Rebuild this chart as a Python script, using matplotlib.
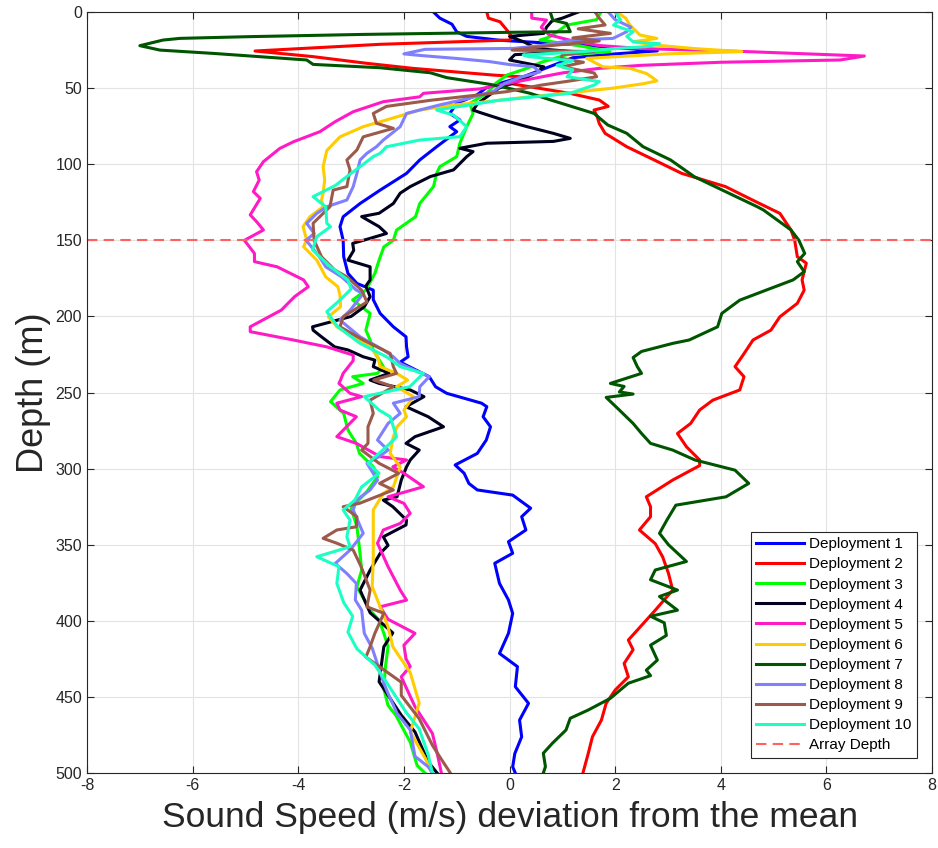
import numpy as np
import matplotlib
matplotlib.use('Agg')
import matplotlib.pyplot as plt

plt.rcParams['font.family'] = ['Liberation Sans', 'DejaVu Sans']
plt.rcParams['axes.unicode_minus'] = False

# (depth m, sound speed deviation m/s)
dep1 = [(0, -1.44), (4, -1.32), (8, -1.09), (13, -1.0), (16, -0.81), (18.5, -0.2), (22, 1.5),
        (25.5, 2.8), (27.5, 2.0), (30, 1.2), (34, 0.9), (38, 0.6), (42, 0.3), (46, -0.1),
        (50, -0.45), (54.5, -0.62), (60, -1.0), (66.6, -1.13), (70.9, -0.94), (75.3, -1.13),
        (78.6, -1.0), (88.5, -1.38), (97.2, -1.7), (106, -1.95), (117, -2.45), (125.8, -2.83),
        (134.5, -3.15), (141, -3.21), (150, -3.15), (160.8, -3.14), (171.7, -3.06),
        (178.3, -2.89), (182.7, -2.58), (189, -2.58), (198, -2.45), (206.8, -2.2),
        (213.4, -1.96), (220, -1.95), (226.5, -1.92), (230, -2.07), (239.6, -1.52),
        (246.2, -1.4), (250.5, -1.19), (257, -0.53), (259.3, -0.43), (265.9, -0.5),
        (272.5, -0.36), (281.2, -0.44), (290, -0.61), (297.6, -1.03), (303, -0.86),
        (309.7, -0.77), (314, -0.61), (317.4, 0.06), (326, 0.4), (331.6, 0.23), (340.3, 0.31),
        (348, -0.02), (355.6, 0.06), (362.2, -0.28), (375.4, -0.19), (386.3, -0.02),
        (395.1, 0.06), (408.2, -0.02), (421.4, -0.19), (430.1, 0.15), (443.3, 0.11),
        (454.2, 0.36), (465.2, 0.19), (476.2, 0.23), (487.2, 0.1), (495.9, 0.06), (500, 0.11)]

dep2 = [(0, -0.43), (4, -0.4), (6.4, -0.18), (11.8, -0.05), (16.2, 0.04), (18.4, 0.0),
        (21.2, -2.45), (25.6, -4.82), (29.3, -3.72), (33.7, -2.7), (37, -1.83), (41.4, -0.31),
        (42.5, 0.2), (46.9, 0.0), (53.4, 1.14), (57.8, 1.7), (62, 1.87), (64.4, 1.6),
        (68.7, 1.66), (73.3, 1.7), (79.7, 1.81), (88.5, 2.22), (97.2, 2.74), (106, 3.26),
        (114.7, 4.09), (123.5, 4.6), (132.3, 5.12), (143.2, 5.33), (150, 5.4), (160.8, 5.45),
        (165, 5.62), (176, 5.54), (182.7, 5.58), (191.4, 5.45), (200.2, 5.12), (209, 4.95),
        (215.5, 4.61), (221.3, 4.5), (226.5, 4.4), (233, 4.27), (239.6, 4.44), (248.3, 4.36),
        (255, 3.85), (261.5, 3.6), (270.3, 3.43), (276.9, 3.18), (285.6, 3.35), (294.3, 3.6),
        (298, 3.6), (307.5, 3.09), (318.5, 2.59), (325, 2.67), (331.6, 2.67), (340.3, 2.46),
        (349.3, 2.76), (358, 2.9), (368.8, 3.01), (379.8, 3.09), (393, 2.76), (406.1, 2.42),
        (412.6, 2.25), (419, 2.34), (428, 2.17), (436.8, 2.25), (445.5, 2.0), (454.2, 1.83),
        (465.2, 1.74), (476.2, 1.57), (487.2, 1.49), (500, 1.39)]

dep3 = [(0, 1.73), (5, 1.65), (8.6, 1.08), (16.2, 0.77), (18.4, 0.58), (22, 1.3), (26, 1.9),
        (28, 1.09), (33, 0.6), (37, 0.33), (41.4, -0.05), (46.8, -0.26), (53.4, -0.43),
        (60, -0.75), (66.6, -0.69), (75.3, -0.81), (86.2, -0.94), (95, -1.0), (101.6, -1.32),
        (106, -1.38), (114.7, -1.44), (125.8, -1.7), (134.5, -1.78), (143.3, -2.14),
        (150, -2.2), (154.3, -2.38), (163, -2.47), (171.7, -2.55), (182.7, -2.72),
        (189.2, -2.97), (198, -2.64), (209, -2.72), (215.5, -2.64), (222.1, -2.58),
        (233, -2.39), (237.4, -2.5), (239.6, -2.97), (244, -2.77), (248.3, -3.21),
        (256, -3.39), (263.7, -3.14), (274.7, -3.06), (283.4, -2.9), (290, -2.84),
        (298.8, -2.58), (305.4, -2.5), (315, -2.7), (326, -3.0), (338, -2.89), (355.7, -2.83),
        (366.7, -2.8), (377.6, -2.89), (393, -2.64), (399.6, -2.47), (408.2, -2.38),
        (417, -2.3), (430, -2.35), (444.7, -2.38), (455.6, -2.3), (462.2, -2.15),
        (479.7, -1.88), (495, -1.75), (500, -1.6)]

dep4 = [(0, 1.3), (4, 1.0), (6, 0.8), (10, 0.7), (14, 0.65), (16, 0.0), (20, 0.3), (24, 0.5),
        (26, 1.2), (28, 0.1), (31.5, 0.0), (36, 0.65), (40, 0.5), (45, 0.2), (50, -0.2),
        (55, -0.4), (60, -0.6), (64.4, -0.69), (66, -0.56), (70.9, -0.12), (75.3, 0.33),
        (79.7, 0.83), (83, 1.15), (85, 0.83), (86.2, -0.43), (89.5, -0.94), (91.7, -0.69),
        (95, -0.81), (103.7, -1.06), (108.1, -1.5), (114.7, -1.88), (119, -2.07),
        (125.8, -2.2), (132.2, -2.47), (134.4, -2.8), (141, -2.47), (145.5, -2.33),
        (148.7, -2.64), (152, -2.97), (156.6, -2.95), (163, -3.06), (167.4, -2.64),
        (176, -2.64), (180, -2.72), (187, -2.64), (193.6, -2.75), (200, -3.0),
        (206.8, -3.73), (209, -3.72), (213.4, -3.56), (220, -3.31), (222, -3.06),
        (226.5, -2.77), (228.7, -2.55), (233, -2.58), (237.4, -2.28), (241.8, -2.64),
        (244, -2.47), (248.3, -1.88), (252.7, -1.62), (259.3, -1.96), (265.9, -1.54),
        (272.5, -1.25), (279, -1.79), (283.4, -1.96), (287.8, -1.71), (294.3, -1.88),
        (298.8, -1.95), (307.5, -2.05), (318.5, -2.13), (320.7, -2.39), (325, -2.21),
        (333.8, -1.95), (337, -1.96), (344.8, -2.39), (350.4, -2.3), (355.7, -2.45),
        (366.7, -2.64), (379.8, -2.83), (394.7, -2.64), (407.9, -2.21), (417, -2.38),
        (440, -2.47), (462, -2.05), (473, -1.79), (492.7, -1.54), (500, -1.37)]

dep5 = [(0, 0.42), (4, 0.42), (5.3, 0.7), (10, 0.6), (15, 0.75), (19, 1.2), (22, 1.7),
        (24, 2.5), (26, 4.5), (28.9, 6.72), (31.5, 6.26), (33, 4.0), (35, 2.5), (37, 1.7),
        (40, 1.0), (44, 0.4), (48, -0.2), (50.5, -0.56), (53.4, -1.63), (55.7, -1.7),
        (58.9, -2.39), (65.5, -2.96), (72, -3.3), (78.6, -3.59), (85.2, -4.09), (89.6, -4.35),
        (98.3, -4.66), (104.9, -4.79), (110.4, -4.74), (118, -4.85), (122.4, -4.72),
        (133.3, -4.91), (137.7, -4.79), (143.2, -4.66), (150, -5.02), (158.6, -4.83),
        (164, -4.83), (167.4, -4.4), (176, -3.9), (180.5, -3.81), (187, -4.07),
        (195.8, -4.32), (206.8, -4.91), (210, -4.91), (215.5, -4.09), (220, -3.46),
        (225.4, -2.96), (229, -2.96), (237.4, -3.15), (241.8, -3.2), (244, -3.23),
        (250.5, -3.02), (252.7, -2.8), (257, -3.27), (261.5, -3.21), (265.9, -2.9),
        (279, -3.27), (283.4, -2.9), (292.1, -2.45), (294.3, -1.95), (298.8, -2.21),
        (303, -2.0), (311.9, -1.63), (318.5, -2.3), (322.8, -2.0), (329.4, -1.88),
        (336, -2.07), (340.3, -2.39), (349, -2.5), (364.4, -2.3), (379.8, -2.07),
        (386.4, -1.95), (390.8, -2.45), (399, -2.3), (408.2, -1.79), (416, -2.0),
        (425, -1.96), (430, -1.88), (436.8, -2.05), (456.4, -1.79), (474, -1.46),
        (487, -1.37), (500, -1.29)]

dep6 = [(0, 2.03), (4, 2.2), (8.6, 2.28), (15.1, 2.47), (17.3, 2.79), (19.5, 2.34),
        (21.5, 2.7), (24, 3.5), (26, 4.4), (27.5, 3.0), (30.4, 1.46), (36, 1.77), (37, 2.28),
        (40.5, 2.6), (45.2, 2.79), (47, 2.55), (50, 1.96), (52.3, 1.34), (56, 0.3),
        (58.9, -0.43), (61.1, -1.06), (64.4, -1.7), (70.9, -2.33), (75.3, -2.77), (82, -3.21),
        (91, -3.46), (101.6, -3.53), (110.4, -3.5), (119, -3.53), (123.5, -3.56),
        (127.9, -3.53), (134.5, -3.78), (141, -3.91), (149.8, -3.84), (154.2, -3.9),
        (163, -3.65), (174, -3.48), (180.5, -3.25), (186, -3.21), (193.6, -3.2),
        (200.2, -3.43), (206.8, -3.27), (213.4, -2.97), (220, -2.64), (226, -2.5),
        (233, -2.45), (237.4, -2.14), (241.8, -1.93), (246.2, -2.14), (252.7, -1.82),
        (261.5, -2.0), (265.9, -1.95), (272.5, -2.13), (279, -2.2), (290, -2.26),
        (298.8, -2.07), (312, -2.2), (316.3, -2.39), (327.2, -2.58), (344.8, -2.58),
        (357.9, -2.58), (377.6, -2.6), (403.9, -2.3), (417, -2.21), (434, -1.88),
        (454, -1.71), (473, -1.88), (490, -1.6), (500, -1.46)]

dep7 = [(0, 0.77), (5.3, 0.82), (7.5, 1.08), (12.9, 1.15), (13.3, 0.07), (14.7, -2.77),
        (16.2, -4.97), (17.3, -6.24), (18.4, -6.56), (22.1, -7.0), (25, -6.62), (27.2, -5.6),
        (31.5, -3.84), (34.4, -3.72), (36.6, -2.45), (39.9, -1.5), (43.1, -1.19),
        (47.5, -0.37), (50.8, 0.07), (53.4, 0.39), (57.8, 0.78), (62.2, 1.19), (66.6, 1.6),
        (74.2, 1.86), (79.7, 2.22), (88.5, 2.53), (97.2, 3.05), (108.2, 3.5), (121.3, 4.29),
        (127.9, 4.69), (130.1, 4.81), (143.2, 5.33), (150, 5.48), (158.6, 5.59), (164, 5.45),
        (170.6, 5.58), (176, 5.37), (182.7, 4.86), (189.3, 4.36), (198, 4.02), (206.8, 3.94),
        (215.5, 3.4), (217.7, 3.09), (223, 2.5), (227, 2.34), (233, 2.42), (237.4, 2.5),
        (244, 1.91), (246, 2.17), (249.6, 2.08), (251, 2.34), (253.2, 1.83), (261.5, 2.08),
        (270.3, 2.34), (276.9, 2.5), (283.4, 2.67), (287.8, 3.09), (294.3, 3.51),
        (301, 4.27), (309.7, 4.53), (318.5, 4.1), (324, 3.15), (333.8, 2.98), (342.5, 2.84),
        (350, 3.01), (361, 3.35), (366.6, 2.76), (373, 2.67), (379.8, 3.18), (384, 2.84),
        (393, 3.18), (397, 2.67), (401.3, 2.93), (409.6, 2.97), (416, 2.67), (425.8, 2.8),
        (432.4, 2.59), (436, 2.67), (441, 2.25), (450.9, 1.91), (458.6, 1.49), (464, 1.15),
        (471.7, 1.07), (480.5, 0.81), (487, 0.64), (495.8, 0.68), (500, 0.64)]

dep8 = [(0, 1.87), (5, 2.0), (10, 2.3), (12.9, 2.22), (17.3, 1.96), (18.4, 1.2), (22, 0.6),
        (23.9, 0.07), (24.5, -1.6), (27.5, -2.0), (28.5, -1.7), (30.5, -1.0), (32.6, -0.37),
        (34.5, 0.0), (35.9, 0.45), (39.3, 0.58), (43, 0.2), (47, -0.1), (52, -0.3),
        (57, -0.8), (61, -1.32), (66.6, -1.95), (75.3, -2.07), (84.1, -2.39), (88.5, -2.52),
        (92.8, -2.7), (97.2, -2.83), (106, -2.89), (114.7, -2.96), (123.5, -3.08),
        (127.9, -3.46), (132.3, -3.65), (138.8, -3.84), (145.4, -3.7), (150, -3.85),
        (160.8, -3.6), (167.4, -3.48), (174, -3.18), (182.7, -2.9), (185, -2.77),
        (196, -3.02), (202.4, -3.21), (213.4, -2.83), (222, -2.39), (226.5, -2.2),
        (231, -2.07), (239.6, -1.52), (246.2, -1.7), (252.7, -1.71), (257, -2.2),
        (263.7, -2.07), (270.3, -2.3), (281.2, -2.5), (287.8, -2.3), (292.1, -2.47),
        (296.5, -2.7), (307.5, -2.5), (314, -2.64), (320.7, -2.9), (327.2, -2.96),
        (342.5, -2.77), (353.5, -3.02), (362.3, -3.3), (368.9, -3.08), (375.5, -2.9),
        (386.3, -2.92), (393, -2.8), (408.2, -2.75), (418, -2.6), (441, -2.38),
        (447.7, -2.3), (460.8, -2.13), (471.7, -1.88), (489, -1.79), (495.9, -1.54),
        (500, -1.46)]

dep9 = [(0, 1.62), (4, 1.7), (8.5, 1.81), (11, 1.3), (14, 1.91), (17, 1.2), (19, 1.7),
        (22, 0.8), (25, 0.05), (26, 1.6), (28, 1.0), (30.4, 0.98), (33, 1.4), (36, 1.0),
        (40, 1.6), (42.5, 1.65), (45, 1.2), (48, 0.6), (52.3, -0.05), (55.6, -0.88),
        (58, -1.5), (62, -2.33), (66.6, -2.58), (73.1, -2.52), (76.4, -2.2), (82, -2.77),
        (90.6, -2.89), (97.2, -3.08), (103.8, -3.02), (114.7, -3.08), (117, -3.34),
        (127.9, -3.4), (138.8, -3.72), (150, -3.7), (160.8, -3.56), (169.5, -3.31),
        (174, -3.08), (182.7, -2.8), (190.5, -2.7), (200.2, -3.15), (206.8, -3.21),
        (215.5, -2.77), (224.3, -2.26), (233, -2.2), (237.4, -2.14), (241.8, -2.57),
        (246.2, -2.2), (255, -2.64), (263.7, -2.58), (272.5, -2.68), (283.4, -2.68),
        (287.8, -2.8), (296.5, -2.47), (303.1, -2.1), (309.7, -2.46), (314, -2.2),
        (322.8, -2.84), (325, -3.15), (331.6, -2.89), (338.2, -2.9), (340.3, -3.27),
        (345.8, -3.53), (349, -3.27), (353.5, -2.96), (364.4, -2.81), (379.8, -2.64),
        (390.8, -2.7), (395, -2.38), (408.2, -2.55), (417, -2.64), (423.8, -2.72),
        (440.3, -2.05), (449, -2.05), (464.3, -1.71), (481.8, -1.46), (491, -1.29),
        (500, -1.12)]

dep10 = [(0, 2.0), (5, 2.1), (8.6, 1.97), (13, 2.34), (16, 2.22), (19.5, 2.34), (20.8, 2.84),
         (22.7, 2.6), (24, 2.0), (26, 1.4), (28.2, 0.26), (29.3, 0.36), (32, 1.2), (35, 0.9),
         (38, 1.2), (42.5, 1.09), (45.7, 1.7), (48, 1.6), (53.4, 1.15), (58, -0.2),
         (64.4, -1.38), (67.7, -1.06), (75.3, -0.81), (81.9, -0.94), (84.1, -1.7),
         (88.5, -2.33), (92.8, -2.45), (95, -2.58), (101.6, -2.83), (108.1, -3.08),
         (114, -3.3), (121.3, -3.72), (127.9, -3.48), (138.8, -3.46), (141, -3.39),
         (147.6, -3.65), (156.3, -3.73), (167.4, -3.39), (176, -3.06), (182, -3.0),
         (189.2, -3.21), (196.9, -3.46), (206.8, -3.25), (217.7, -2.83), (226.5, -2.33),
         (233, -2.07), (237.4, -1.63), (246.2, -1.89), (252.7, -2.75), (261.5, -2.47),
         (265.9, -2.26), (279, -2.14), (285.6, -2.33), (296.5, -2.68), (303, -2.47),
         (312, -2.8), (320.7, -2.93), (327.2, -3.15), (333.8, -3.02), (344.8, -3.08),
         (351.3, -3.02), (357.9, -3.65), (364.4, -3.23), (375.4, -3.27), (388, -3.14),
         (397, -2.97), (407.4, -3.06), (418.4, -2.89), (429, -2.55), (442, -2.3),
         (460, -1.96), (471, -1.71), (488, -1.54), (500, -1.46)]

profiles = [dep1, dep2, dep3, dep4, dep5, dep6, dep7, dep8, dep9, dep10]
labels = ['Deployment %d' % i for i in range(1, 11)]
colors = ['#0000ff', '#ff0000', '#00ff00', '#00001f', '#ff1ac6',
          '#ffcc00', '#005500', '#8080ff', '#9c5a4a', '#1affc4']
array_depth = 150


fig = plt.figure(figsize=(9.38, 8.48), dpi=100)
ax = fig.add_axes([0.0928, 0.0884, 0.9008, 0.8974])

for prof, col, lab in zip(profiles, colors, labels):
    p = np.array(prof)
    ax.plot(p[:, 1], p[:, 0], color=col, lw=2.2, label=lab)
ax.axhline(array_depth, color='#ff6060', ls=(0, (5, 3)), lw=1.5, label='Array Depth')

ax.set_xlim(-8, 8)
ax.set_ylim(500, 0)
ax.set_xticks(np.arange(-8, 9, 2))
ax.set_yticks(np.arange(0, 501, 50))
ax.grid(True, color='#e3e3e3', lw=0.8)
ax.set_axisbelow(True)
for s in ax.spines.values():
    s.set_color('#262626')
    s.set_linewidth(0.8)
ax.tick_params(direction='in', top=True, right=True, length=5, labelsize=11.5,
               color='#262626', labelcolor='#262626', width=0.8)

ax.set_xlabel('Sound Speed (m/s) deviation from the mean', fontsize=25.5,
              color='#262626', labelpad=6)
ax.set_ylabel('Depth (m)', fontsize=26, color='#262626', labelpad=3)

leg = ax.legend(loc='lower right', fontsize=11, fancybox=False, edgecolor='#262626',
                framealpha=1, handlelength=3.1, labelspacing=0.4, borderpad=0.35,
                borderaxespad=1.0, handletextpad=0.35)
leg.get_frame().set_linewidth(0.8)

fig.savefig('out.png', dpi=100)
